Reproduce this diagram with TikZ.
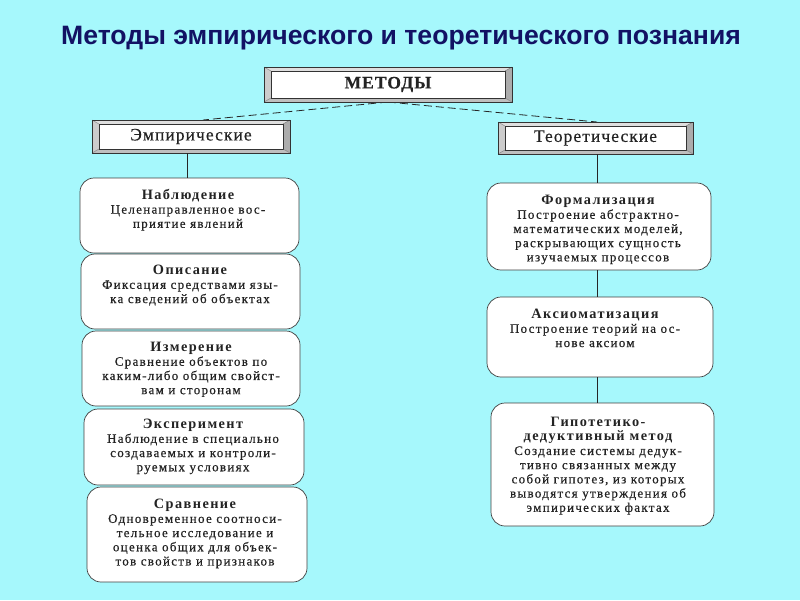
\documentclass[tikz,border=0pt]{standalone}
\usepackage{fontspec}
\setmainfont{Liberation Serif}
\newfontfamily\headfont{Liberation Sans}
\newfontfamily\ttlfont[LetterSpace=10]{Liberation Serif}
\newfontfamily\bevfont[LetterSpace=6,FakeBold=0.4]{Liberation Serif}
\newfontfamily\bodyfont[LetterSpace=10,FakeBold=0.5]{Liberation Serif}
\definecolor{bgc}{RGB}{166,248,252}
\definecolor{navy}{RGB}{18,18,100}
\definecolor{inkc}{RGB}{35,35,35}
\tikzset{
  rbox/.style={draw=black!75, line width=0.7pt, fill=white, rounded corners=14pt, inner sep=0pt},
  btxt/.style={align=center, text=inkc, inner sep=0pt, anchor=north,
     font=\bodyfont\fontsize{13}{14.2}\selectfont},
  conn/.style={draw=black!85, line width=0.8pt},
  dconn/.style={draw=black!85, line width=0.8pt, dash pattern=on 8pt off 4pt},
}
\newcommand\ttl[1]{{\ttlfont\bfseries\fontsize{14.3}{14.2}\selectfont #1}}
\newcommand\bevelbox[6]{%
  \node[draw=black!80, line width=0.6pt, fill=white, inner sep=0pt,
        minimum width={#4-#2}, minimum height={#5-#3}] (#1) at ({(#2+#4)/2},{(#3+#5)/2}) {};
  \fill[gray!25] (#2,#3) -- (#4,#3) -- ({#4-7},{#3+4}) -- ({#2+7},{#3+4}) -- cycle;
  \fill[gray!40] (#2,#3) -- ({#2+7},{#3+4}) -- ({#2+7},{#5-4}) -- (#2,#5) -- cycle;
  \fill[gray!65] (#4,#3) -- ({#4-7},{#3+4}) -- ({#4-7},{#5-4}) -- (#4,#5) -- cycle;
  \fill[gray!50] (#2,#5) -- ({#2+7},{#5-4}) -- ({#4-7},{#5-4}) -- (#4,#5) -- cycle;
  \draw[black!80, line width=0.4pt] ({#2+7},{#3+4}) rectangle ({#4-7},{#5-4});
  \draw[black!60, line width=0.3pt] (#2,#3) -- ({#2+7},{#3+4}) (#4,#3) -- ({#4-7},{#3+4})
     (#2,#5) -- ({#2+7},{#5-4}) (#4,#5) -- ({#4-7},{#5-4});
  \draw[black!80, line width=0.6pt] (#2,#3) rectangle (#4,#5);
  \node[text=inkc, inner sep=0pt, font=\bevfont\fontsize{17.5}{19}\selectfont] (#1t) at (#1) {#6};
}
\begin{document}
\begin{tikzpicture}[x=1pt,y=-1pt]
\fill[bgc] (0,0) rectangle (800,600);
\useasboundingbox (0,0) rectangle (800,600);

\node[font=\headfont\bfseries\fontsize{26.6}{30}\selectfont, text=navy, inner sep=0pt] (title) at (401,38) {Методы эмпирического и теоретического познания};

% connectors (drawn first)
\coordinate (top) at (388,102);
\coordinate (le) at (203,120);
\coordinate (re) at (597,122);
\draw[dconn] (top) -- (le);
\draw[dconn] (top) -- (re);

\bevelbox{met}{264}{67}{512}{102}{\bfseries МЕТОДЫ}
\bevelbox{emp}{92}{120}{290}{153}{Эмпирические}
\bevelbox{teo}{498}{122}{693}{154}{Теоретические}

% left column
\node[rbox, minimum width=219, minimum height=75] (nab) at (189.5,215.5) {};
\node[rbox, minimum width=219, minimum height=75] (opi) at (190.5,291.5) {};
\node[rbox, minimum width=218, minimum height=75] (izm) at (191,368.5) {};
\node[rbox, minimum width=220, minimum height=76] (eks) at (194,447) {};
\node[rbox, minimum width=220, minimum height=95] (srv) at (197,534.5) {};

% right column
\node[rbox, minimum width=224, minimum height=87] (frm) at (599,226.5) {};
\node[rbox, minimum width=226, minimum height=80] (aks) at (600,337) {};
\node[rbox, minimum width=223, minimum height=123] (gip) at (602.5,464.5) {};

\draw[conn] ([xshift=-4pt]emp.south) -- ([xshift=-4pt]emp.south |- nab.north);
\draw[conn] (597,154) -- (597,183);
\draw[conn] (597,270) -- (597,297);
\draw[conn] (597,377) -- (597,403);

% texts
\node[btxt] (nabt) at (188,189) {\ttl{Наблюдение}\\Целенаправленное вос-\\приятие явлений};
\node[btxt] (opit) at (190,265) {\ttl{Описание}\\Фиксация средствами язы-\\ка сведений об объектах};
\node[btxt] (izmt) at (191,342) {\ttl{Измерение}\\Сравнение объектов по\\каким-либо общим свойст-\\вам и сторонам};
\node[btxt] (ekst) at (193,419) {\ttl{Эксперимент}\\Наблюдение в специально\\создаваемых и контроли-\\руемых условиях};
\node[btxt] (srvt) at (195,499) {\ttl{Сравнение}\\Одновременное соотноси-\\тельное исследование и\\оценка общих для объек-\\тов свойств и признаков};

\node[btxt] (frmt) at (598,195) {\ttl{Формализация}\\Построение абстрактно-\\математических моделей,\\раскрывающих сущность\\изучаемых процессов};
\node[btxt] (akst) at (595,309) {\ttl{Аксиоматизация}\\Построение теорий на ос-\\нове аксиом};
\node[btxt] (gipt) at (598,417) {\ttl{Гипотетико-}\\\ttl{дедуктивный метод}\\Создание системы дедук-\\тивно связанных между\\собой гипотез, из которых\\выводятся утверждения об\\эмпирических фактах};
\end{tikzpicture}
\end{document}
